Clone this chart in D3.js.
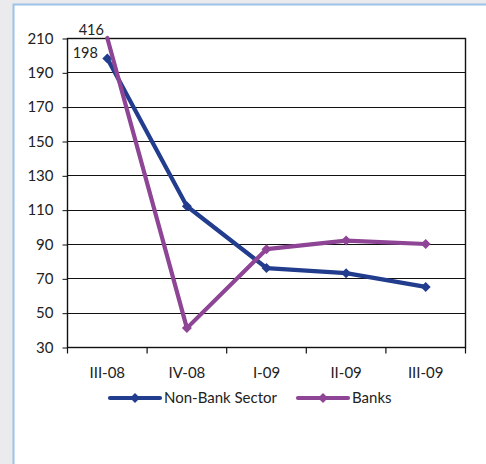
<!DOCTYPE html>
<html>
<head>
<meta charset="utf-8">
<script src="https://cdn.jsdelivr.net/npm/d3@7"></script>
<style>
  html, body { margin: 0; padding: 0; background: #ebebee; }
  svg { display: block; }
</style>
</head>
<body>
<svg id="chart" width="486" height="464"></svg>
<script>
// Quarterly figures for the non-bank sector and banks
const categories = ["III-08", "IV-08", "I-09", "II-09", "III-09"];
const nonBankValues = [198, 112, 76, 73, 65];
const bankValues = [416, 41, 87, 92, 90];
const yTicks = [30, 50, 70, 90, 110, 130, 150, 170, 190, 210];
const seriesNames = ["Non-Bank Sector", "Banks"];
const seriesColors = ["#233d8e", "#8e4595"];
const pointLabels = [{ series: 1, index: 0, text: "416" }, { series: 0, index: 0, text: "198" }];

const svg = d3.select("#chart");
const font = "Lato, 'DejaVu Sans', sans-serif";
const fontSize = 15;

// panel with a light blue frame
svg.append("rect")
  .attr("x", 13.5).attr("y", 4.5)
  .attr("width", 500).attr("height", 500)
  .attr("fill", "#ffffff")
  .attr("stroke", "#9cc2e8").attr("stroke-width", 2);

const plotLeft = 67.5, plotRight = 465.5, plotTop = 38, plotBottom = 347;

const x = d3.scaleBand().domain(categories).range([plotLeft, plotRight]);
const y = d3.scaleLinear().domain([30, 210]).range([plotBottom, plotTop]).clamp(true);

// horizontal gridlines
svg.append("g")
  .selectAll("line")
  .data(yTicks)
  .join("line")
  .attr("x1", plotLeft).attr("x2", plotRight)
  .attr("y1", d => Math.round(y(d)) + 0.5).attr("y2", d => Math.round(y(d)) + 0.5)
  .attr("stroke", "#111").attr("stroke-width", 1.2);

// plot border
svg.append("rect")
  .attr("x", plotLeft).attr("y", Math.round(plotTop) + 0.5)
  .attr("width", plotRight - plotLeft).attr("height", Math.round(plotBottom) - Math.round(plotTop))
  .attr("fill", "none").attr("stroke", "#111").attr("stroke-width", 1.4);

// y axis
const yAxis = d3.axisLeft(y).tickValues(yTicks).tickSize(5).tickPadding(9);
const gy = svg.append("g").attr("transform", `translate(${plotLeft},0.5)`).call(yAxis);
gy.select(".domain").remove();
gy.selectAll(".tick line").attr("stroke", "#111");
gy.selectAll(".tick text")
  .attr("font-family", font).attr("font-size", fontSize).attr("fill", "#222");

// x axis with ticks between categories
const gx = svg.append("g").attr("transform", `translate(0,${Math.round(plotBottom) + 0.5})`);
const boundaries = categories.map(c => x(c)).concat([x.range()[1]]);
gx.selectAll("line.tk")
  .data(boundaries)
  .join("line")
  .attr("class", "tk")
  .attr("x1", d => d).attr("x2", d => d)
  .attr("y1", 0).attr("y2", 6)
  .attr("stroke", "#111").attr("stroke-width", 1.2);
gx.selectAll("text")
  .data(categories)
  .join("text")
  .attr("x", d => x(d) + x.bandwidth() / 2)
  .attr("y", 30)
  .attr("text-anchor", "middle")
  .attr("font-family", font).attr("font-size", fontSize).attr("fill", "#222")
  .text(d => d);

// series lines and diamond markers
svg.append("clipPath").attr("id", "plotClip")
  .append("rect").attr("x", plotLeft - 10).attr("y", plotTop - 4)
  .attr("width", plotRight - plotLeft + 20).attr("height", plotBottom - plotTop + 14);

const series = [nonBankValues, bankValues];
const line = d3.line()
  .x((d, i) => x(categories[i]) + x.bandwidth() / 2)
  .y(d => y(d));
const diamond = d3.symbol().type(d3.symbolSquare).size(50);

const plotG = svg.append("g").attr("clip-path", "url(#plotClip)");
series.forEach((vals, s) => {
  plotG.append("path")
    .datum(vals)
    .attr("d", line)
    .attr("fill", "none")
    .attr("stroke", seriesColors[s])
    .attr("stroke-width", 4.2)
    .attr("stroke-linejoin", "round")
    .attr("stroke-linecap", "round");
  plotG.selectAll(null)
    .data(vals.map((v, i) => ({ v, i })).filter(d => d.v <= 210))
    .join("path")
    .attr("d", diamond)
    .attr("transform", d => `translate(${x(categories[d.i]) + x.bandwidth() / 2},${y(d.v)}) rotate(45)`)
    .attr("fill", seriesColors[s]);
});

// value labels
svg.selectAll("text.pl")
  .data(pointLabels)
  .join("text")
  .attr("class", "pl")
  .attr("x", d => x(categories[d.index]) + x.bandwidth() / 2 - (d.series === 1 ? 16 : 22))
  .attr("y", d => d.series === 1 ? y(series[d.series][d.index]) - 3 : y(series[d.series][d.index]) - 1)
  .attr("text-anchor", "middle")
  .attr("font-family", font).attr("font-size", 14.5).attr("fill", "#222")
  .text(d => d.text);

// legend
const legendItems = [{ x: 110 }, { x: 298 }];
const lg = svg.append("g");
legendItems.forEach((item, s) => {
  const g = lg.append("g").attr("transform", `translate(${item.x},398)`);
  g.append("line").attr("x1", 0).attr("x2", 50).attr("y1", 0).attr("y2", 0)
    .attr("stroke", seriesColors[s]).attr("stroke-width", 4.2).attr("stroke-linecap", "round");
  g.append("path").attr("d", diamond).attr("transform", "translate(25,0) rotate(45)")
    .attr("fill", seriesColors[s]);
  g.append("text").attr("x", 54).attr("y", 5)
    .attr("font-family", font).attr("font-size", fontSize).attr("fill", "#222")
    .text(seriesNames[s]);
});
</script>
</body>
</html>
